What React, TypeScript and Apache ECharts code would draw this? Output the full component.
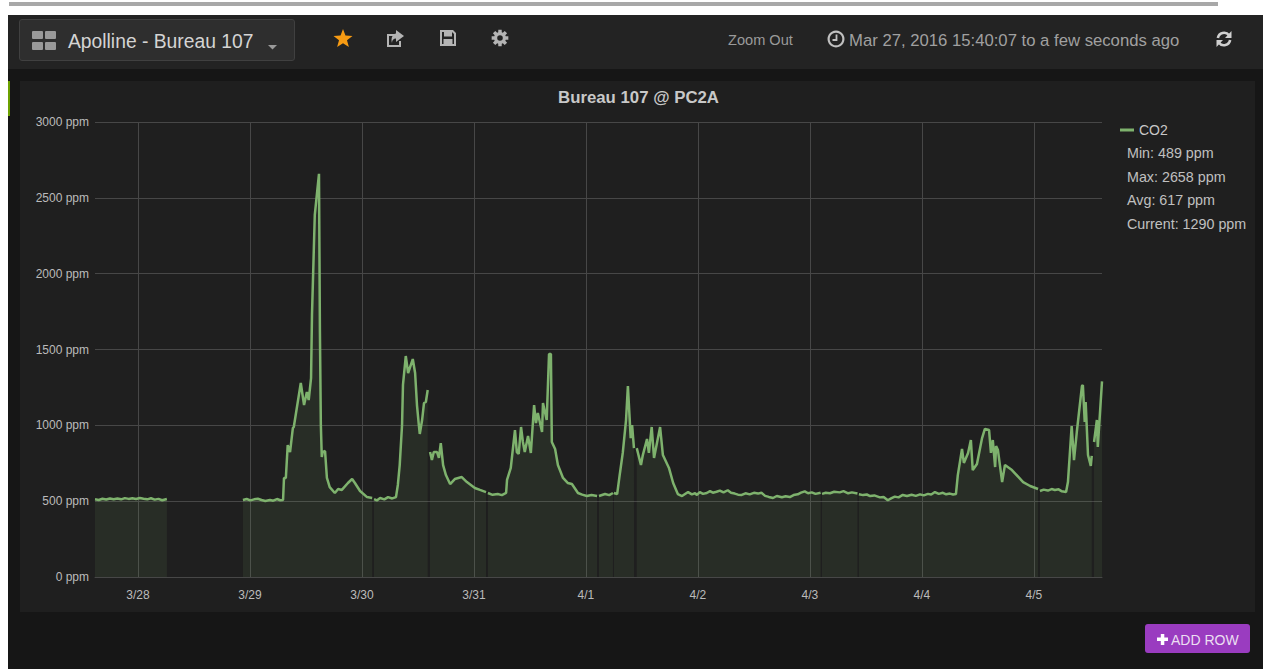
import React, { useEffect, useRef } from "react";
import * as echarts from "echarts";

// Each segment is [hours after 3/28 00:00, ppm]; the data stops between segments.
const segA = [[-9.2,512],[-8.4,508],[-7.6,516],[-6.8,511],[-6,518],[-5.2,513],[-4.4,517],[-3.6,512],[-2.8,520],[-2,515],[-1.2,519],[-0.4,514],[0.4,521],[1.2,516],[2,512],[2.8,519],[3.6,510],[4.4,515],[5.2,506],[6.2,514]];
const segB = [[22.5,508],[23.3,514],[24.1,505],[24.9,512],[25.7,516],[26.5,508],[27.3,501],[28.3,508],[29,503],[29.8,514],[30.5,506],[31.1,508],[31.3,653],[31.7,653],[32.1,870],[32.6,824],[33.2,982],[33.4,989],[34.9,1279],[35.6,1134],[36.2,1220],[36.6,1167],[37.1,1312],[37.3,1727],[37.9,2387],[38.8,2658],[39,1615],[39.2,1002],[39.4,791],[39.6,824],[40.1,831],[40.5,653],[41.1,593],[42.2,554],[42.9,580],[43.7,574],[45,620],[45.9,646],[46.5,620],[47.6,567],[49.1,527],[50.2,521]];
const segC = [[50.6,514],[51.2,505],[51.9,521],[52.8,512],[53.6,527],[54.5,518],[55.3,527],[55.7,607],[56.1,738],[56.6,1002],[56.8,1266],[57.4,1457],[57.9,1345],[58.9,1437],[59.4,1345],[59.8,1134],[60.2,1002],[60.4,943],[60.9,1035],[61.3,1147],[61.7,1154],[62.1,1233]];
const segD = [[62.6,824],[63,771],[63.4,824],[64.1,824],[64.5,785],[64.9,883],[65.4,738],[66,672],[66.9,613],[67.9,646],[69.4,659],[70.5,626],[72.2,587],[73.3,574],[74.6,560]];
const segE = [[75,554],[76,542],[77.1,547],[78,540],[78.9,554],[79.1,640],[79.9,719],[80.8,969],[81.2,824],[81.6,811],[82.1,989],[82.5,890],[82.9,824],[83.6,930],[84.2,818],[84.9,1134],[85.3,1015],[85.7,1081],[86.6,956],[86.8,1147],[87.6,1035],[88.1,1470],[88.5,1470],[88.7,890],[89.4,844],[90,738],[91.1,653],[92.1,620],[93,613],[94.3,554],[95.2,543],[96.2,534],[97.2,541],[98.4,534]];
const segF = [[98.8,534],[100.1,547],[101,540],[101.8,554]];
const segG = [[102,554],[102.7,547],[103.3,686],[103.9,818],[104.6,1035],[105,1259],[105.6,916],[105.9,1002],[106.3,850]];
const segH = [[106.9,850],[107.8,738],[108.2,804],[109.1,910],[109.5,818],[110.1,989],[110.6,785],[111.9,989],[112.5,804],[113.8,719],[114.7,620],[115.7,547],[116.6,534],[117.9,560],[118.7,545],[119.4,552],[119.8,541],[120.4,560],[121.1,548],[121.9,554],[122.6,566],[123.2,556],[124,562],[124.7,570],[125.5,558],[126.4,572],[127.1,556],[127.9,550],[128.6,543],[129.4,541],[130.2,552],[131.1,545],[132,555],[132.9,550],[133.6,556],[134.4,535],[135.2,528],[136.1,521],[136.9,534],[138,526],[138.8,532],[139.7,527],[140.5,540],[141.4,545],[142.1,556],[142.9,565],[143.6,552],[144.4,558],[145.2,548],[146.3,556]];
const segI = [[146.6,548],[147.4,555],[148.3,552],[149.2,562],[150.4,558],[151.2,566],[152.2,552],[153,558],[154.2,550]];
const segJ = [[154.5,546],[155.4,540],[156.2,544],[156.9,534],[157.8,538],[159,525],[159.8,528],[160.7,506],[161.5,520],[162.2,530],[163,525],[163.9,541],[164.8,534],[165.8,542],[166.7,535],[167.6,545],[168.4,538],[169.3,548],[170,544],[170.8,560],[171.6,548],[172.5,555],[173.2,545],[174,550],[174.7,544],[175.3,547],[175.7,672],[176.6,844],[177,752],[177.9,818],[178.5,903],[178.9,705],[179.8,745],[180.9,916],[181.5,976],[182.4,969],[182.8,818],[183.2,903],[183.7,725],[183.9,864],[184.3,837],[185.2,626],[185.8,738],[187.3,705],[189.7,626],[191.2,600],[192.9,580]];
const segK = [[193.3,567],[194.1,576],[195,570],[195.8,580],[196.5,574],[197.3,578],[198,565],[198.9,560],[199.3,626],[200.1,995],[200.6,771],[201.2,956],[202.3,1259],[202.5,1266],[202.9,1022],[203.1,1154],[203.6,804],[204.2,732],[204.4,798]];
const segL = [[204.9,890],[205.5,1035],[205.7,857],[206.6,1290]];
const segments = [segA, segB, segC, segD, segE, segF, segG, segH, segI, segJ, segK, segL];

const seriesName = "CO2";
const legendStats = ["Min: 489 ppm", "Max: 2658 ppm", "Avg: 617 ppm", "Current: 1290 ppm"];
const axisStartHours = -9.2;
const axisEndHours = 206.6;
const yMax = 3000;
const yStep = 500;

const HOUR = 3600000;
const BASE = Date.UTC(2016, 2, 28);
const toTime = (h: number) => BASE + h * HOUR;

function buildData() {
  const out: any[] = [];
  segments.forEach((seg, i) => {
    seg.forEach(([h, v]) => out.push([toTime(h), v]));
    if (i < segments.length - 1) {
      const last = seg[seg.length - 1][0];
      out.push([toTime(last + 0.05), null]);
    }
  });
  return out;
}

function gearPath() {
  const teeth = 8;
  const pts: string[] = [];
  for (let i = 0; i < teeth; i++) {
    const a = (i * 2 * Math.PI) / teeth;
    const w = 0.2;
    const seq: [number, number][] = [
      [6, a - 0.3],
      [8.5, a - w],
      [8.5, a + w],
      [6, a + 0.3],
    ];
    seq.forEach(([r, t]) => {
      pts.push(`${(r * Math.cos(t)).toFixed(2)} ${(r * Math.sin(t)).toFixed(2)}`);
    });
  }
  const hole = "M2.8 0 A2.8 2.8 0 1 0 -2.8 0 A2.8 2.8 0 1 0 2.8 0 Z";
  return `M${pts.join(" L")} Z ${hole}`;
}

echarts.graphic.registerShape("navShare", echarts.graphic.extendPath("M0 4 H7 V6 H2 V15 H12 V11 H14 V17 H0 Z M9 0 L17 6 L9 12 V8.5 C6.5 8.5 5 10 5 13 C3.5 8 6 3.5 9 3.5 Z", {}));
echarts.graphic.registerShape("navSave", echarts.graphic.extendPath("M0 0 H13 L16 3 V16 H0 Z M2 2 V14 H3.5 V9 H12.5 V14 H14 V4 L12 2 V6.5 H4 V2 Z", {}));
echarts.graphic.registerShape("navGear", echarts.graphic.extendPath(gearPath(), {}));

const FONT = "'Liberation Sans', Arial, sans-serif";
const txt = (x: number, y: number, text: string, fontSize: number, fill: string, extra: any = {}) => ({
  type: "text",
  x,
  y,
  style: { text, fontSize, fill, fontFamily: FONT, textVerticalAlign: "middle", verticalAlign: "middle", ...extra },
});

const GRID = "#474747";

const box = (style: React.CSSProperties): React.CSSProperties => ({ position: "absolute", ...style });

export default function App() {
  const ref = useRef<HTMLDivElement>(null);
  useEffect(() => {
    document.body.style.margin = "0";
    document.body.style.background = "#fff";
    const chart = echarts.init(ref.current!, undefined, { renderer: "svg" });
    const iconGray = "#b4b4b4";
    chart.setOption({
      animation: false,
      useUTC: true,
      backgroundColor: "transparent",
      textStyle: { fontFamily: FONT },
      title: {
        text: "Bureau 107 @ PC2A",
        left: 633.5,
        top: 84,
        textAlign: "center",
        textStyle: { color: "#c8c8c8", fontSize: 16.8, fontWeight: "bold", fontFamily: FONT },
      },
      legend: {
        data: [seriesName],
        left: 1120,
        top: 123,
        icon: "rect",
        itemWidth: 14,
        itemHeight: 3,
        itemGap: 6,
        textStyle: { color: "#c8c8c8", fontSize: 14, fontFamily: FONT, padding: [0, 0, 0, 0] },
        padding: 0,
      },
      grid: { left: 95, top: 122, right: 161, bottom: 92, containLabel: false },
      xAxis: {
        type: "time",
        min: toTime(axisStartHours),
        max: toTime(axisEndHours),
        minInterval: 24 * HOUR,
        maxInterval: 24 * HOUR,
        splitNumber: 9,
        axisLine: { show: true, lineStyle: { color: GRID, width: 1 } },
        axisTick: { show: false },
        splitLine: { show: true, showMinLine: false, showMaxLine: false, lineStyle: { color: GRID, width: 1 } },
        axisLabel: {
          color: "#bbbbbb",
          fontSize: 12,
          fontFamily: FONT,
          margin: 12,
          showMinLabel: false,
          showMaxLabel: false,
          hideOverlap: false,
          formatter: (v: number) => {
            const d = new Date(v);
            return `${d.getUTCMonth() + 1}/${d.getUTCDate()}`;
          },
        },
      },
      yAxis: {
        type: "value",
        min: 0,
        max: yMax,
        interval: yStep,
        axisLine: { show: false },
        axisTick: { show: false },
        splitLine: { show: true, lineStyle: { color: GRID, width: 1 } },
        axisLabel: { color: "#bbbbbb", fontSize: 12, fontFamily: FONT, margin: 6, formatter: (v: number) => `${v} ppm` },
      },
      series: [
        {
          name: seriesName,
          type: "line",
          data: buildData(),
          showSymbol: false,
          connectNulls: false,
          smooth: false,
          itemStyle: { color: "#7EB26D" },
          lineStyle: { color: "#7EB26D", width: 2.5 },
          areaStyle: { color: "#7EB26D", opacity: 0.1 },
        },
      ],
      graphic: {
        elements: [
          // board picker
          { type: "rect", shape: { x: 32, y: 31, width: 11, height: 8, r: 1 }, style: { fill: "#999" } },
          { type: "rect", shape: { x: 45, y: 31, width: 11, height: 8, r: 1 }, style: { fill: "#999" } },
          { type: "rect", shape: { x: 32, y: 42, width: 11, height: 8, r: 1 }, style: { fill: "#999" } },
          { type: "rect", shape: { x: 45, y: 42, width: 11, height: 8, r: 1 }, style: { fill: "#999" } },
          txt(68, 41, "Apolline - Bureau 107", 19.3, "#d4d4d4"),
          { type: "polygon", shape: { points: [[268, 45], [277, 45], [272.5, 49.5]] }, style: { fill: "#9a9a9a" } },
          // nav icons
          {
            type: "polygon",
            shape: {
              points: Array.from({ length: 10 }, (_, i) => {
                const r = i % 2 ? 4.2 : 10;
                const a = -Math.PI / 2 + (i * Math.PI) / 5;
                return [343 + r * Math.cos(a), 39 + r * Math.sin(a)];
              }),
            },
            style: { fill: "#F79B13" },
          },
          { type: "navShare", x: 387, y: 30, style: { fill: iconGray } },
          { type: "navSave", x: 440, y: 30, style: { fill: iconGray } },
          { type: "navGear", x: 500, y: 38, style: { fill: iconGray } },
          // time controls
          txt(728, 40, "Zoom Out", 14.6, "#9a9a9a"),
          { type: "ring", shape: { cx: 836, cy: 39, r: 8.5, r0: 6.3 }, style: { fill: "#c0c0c0" } },
          { type: "polyline", shape: { points: [[836.5, 34.5], [836.5, 40], [832.5, 40]] }, style: { stroke: "#c0c0c0", lineWidth: 1.8, fill: "none" } },
          txt(849, 40, "Mar 27, 2016 15:40:07 to a few seconds ago", 16.7, "#a0a0a0"),
          { type: "arc", shape: { cx: 1224, cy: 39, r: 6.2, startAngle: Math.PI * 1.05, endAngle: Math.PI * 1.8 }, style: { stroke: "#cfcfcf", lineWidth: 2.6, fill: "none" } },
          { type: "arc", shape: { cx: 1224, cy: 39, r: 6.2, startAngle: Math.PI * 0.05, endAngle: Math.PI * 0.8 }, style: { stroke: "#cfcfcf", lineWidth: 2.6, fill: "none" } },
          { type: "polygon", shape: { points: [[1231.5, 31], [1231.5, 38], [1225, 38]] }, style: { fill: "#cfcfcf" } },
          { type: "polygon", shape: { points: [[1216.5, 47], [1216.5, 40], [1223, 40]] }, style: { fill: "#cfcfcf" } },
          // legend values
          ...legendStats.map((s, i) => txt(1127, 153 + i * 23.7, s, 14.3, "#c0c0c0")),
          // add row
          { type: "rect", shape: { x: 1157, y: 637.5, width: 11, height: 3.5 }, style: { fill: "#fff" } },
          { type: "rect", shape: { x: 1160.8, y: 634, width: 3.5, height: 11 }, style: { fill: "#fff" } },
          txt(1171, 640, "ADD ROW", 14, "#ecdff2"),
        ],
      },
    });
    return () => chart.dispose();
  }, []);

  return (
    <div style={{ position: "absolute", left: 0, top: 0, width: 1263, height: 669, overflow: "hidden", background: "#fff" }}>
      <div style={box({ left: 9, top: 2, width: 1209, height: 4, background: "#a8a8a8" })} />
      <div style={box({ left: 8, top: 15, width: 1255, height: 654, background: "#161616" })} />
      <div style={box({ left: 8, top: 15, width: 1255, height: 54, background: "#232323" })} />
      <div style={box({ left: 19, top: 19, width: 274, height: 40, background: "#2e2e2e", border: "1px solid #404040", borderRadius: 3 })} />
      <div style={box({ left: 20, top: 81, width: 1235, height: 531, background: "#1f1f1f", border: "0" })} />
      <div style={box({ left: 8, top: 81, width: 1.5, height: 35, background: "#6ca100" })} />
      <div style={box({ left: 1145, top: 624, width: 105, height: 29, background: "#9a3cc0", borderRadius: 3 })} />
      <div ref={ref} style={{ position: "absolute", left: 0, top: 0, width: 1263, height: 669 }} />
    </div>
  );
}
